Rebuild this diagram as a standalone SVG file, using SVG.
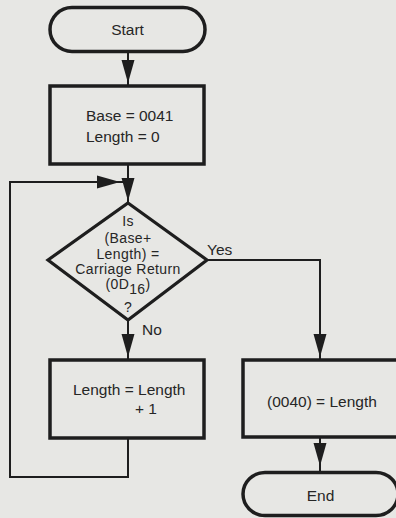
<svg xmlns="http://www.w3.org/2000/svg" xmlns:xlink="http://www.w3.org/1999/xlink" width="396" height="518" viewBox="0 0 396 518">
<style>
.bg{fill:#e7e7e4}
.shape{fill:none;stroke:#1e1e1e;stroke-width:3.5}
.dia{fill:none;stroke:#1e1e1e;stroke-width:3.2;stroke-linejoin:miter}
.conn{fill:none;stroke:#1e1e1e;stroke-width:2}
.head{fill:#1e1e1e}
text{font-family:"Liberation Sans",Arial,sans-serif;font-size:15.5px;fill:#262626}
.mid{text-anchor:middle}
.dt{font-size:14px;letter-spacing:0.4px}
</style>
<defs>
<path id="ah" d="M-6.5,-23 L6.5,-23 L0,0 Z"/>
</defs>
<rect class="bg" x="0" y="0" width="396" height="518"/>
<g id="connectors">
<line class="conn" x1="128" y1="52" x2="128" y2="86"/>
<use class="head" xlink:href="#ah" href="#ah" x="128" y="83"/>
<line class="conn" x1="128" y1="164" x2="128" y2="203"/>
<use class="head" xlink:href="#ah" href="#ah" x="128" y="201"/>
<polyline class="conn" points="128,438 128,477 10,477 10,182 128,182"/>
<use class="head" xlink:href="#ah" href="#ah" transform="translate(120,182) rotate(-90)"/>
<line class="conn" x1="128" y1="320" x2="128" y2="360"/>
<use class="head" xlink:href="#ah" href="#ah" x="128" y="357"/>
<polyline class="conn" points="207,260 320,260 320,360"/>
<use class="head" xlink:href="#ah" href="#ah" x="320" y="357"/>
<line class="conn" x1="320" y1="437" x2="320" y2="473"/>
<use class="head" xlink:href="#ah" href="#ah" x="320" y="466"/>
<text x="207" y="255">Yes</text>
<text x="142" y="335">No</text>
</g>
<g id="start">
<rect class="shape" x="50" y="7.5" width="155" height="44" rx="22" ry="22"/>
<text class="mid" x="127.5" y="35">Start</text>
</g>
<g id="init">
<rect class="shape" x="50" y="86" width="154" height="78"/>
<text x="86" y="121">Base = 0041</text>
<text x="86" y="142">Length = 0</text>
</g>
<g id="decision">
<polygon class="dia" points="128,203 207,260 128,320 48,260"/>
<text class="mid dt" x="128" y="226"><tspan x="128" y="226">Is</tspan><tspan x="128" y="243">(Base+</tspan><tspan x="128" y="259">Length) =</tspan><tspan x="128" y="274">Carriage Return</tspan><tspan x="128" y="289">(0D<tspan dy="5">16</tspan><tspan dy="-5">)</tspan></tspan><tspan x="128" y="312">?</tspan></text>
</g>
<g id="increment">
<rect class="shape" x="50" y="360" width="154" height="78"/>
<text x="73" y="395">Length = Length</text>
<text x="135" y="414">+ 1</text>
</g>
<g id="store">
<rect class="shape" x="243" y="360" width="156" height="77"/>
<text x="267" y="407">(0040) = Length</text>
</g>
<g id="end">
<rect class="shape" x="243" y="472.5" width="155" height="43" rx="22" ry="22"/>
<text class="mid" x="320.5" y="501">End</text>
</g>
</svg>
